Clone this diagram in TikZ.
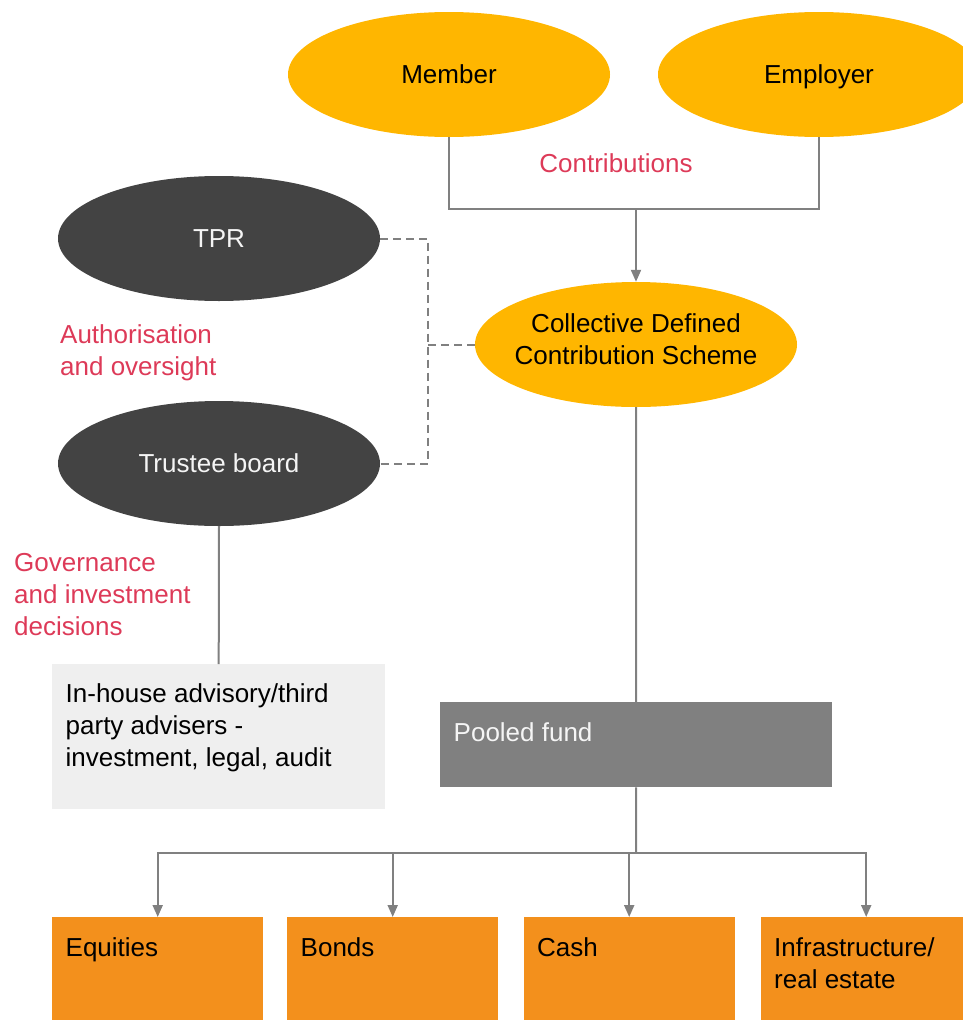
\documentclass[tikz,border=0pt]{standalone}
\usepackage{fontspec}
\setmainfont{Liberation Sans}
\usetikzlibrary{shapes.geometric,arrows.meta}

\definecolor{schemegold}{RGB}{255,182,0}
\definecolor{bodydark}{RGB}{67,67,67}
\definecolor{assetorange}{RGB}{243,144,28}
\definecolor{fundgray}{RGB}{128,128,128}
\definecolor{advisorgray}{RGB}{239,239,239}
\definecolor{linkgray}{RGB}{128,128,128}
\definecolor{notered}{RGB}{221,58,88}
\definecolor{softwhite}{RGB}{245,245,245}

% zero-width strut that fixes the height of a first text line
\newcommand\ascstrut{\rule{0pt}{19pt}}

\begin{document}
\begin{tikzpicture}[
  x=1pt, y=-1pt,
  font=\fontsize{26}{32}\selectfont,
  oval/.style={ellipse, minimum width=322pt, minimum height=125pt, inner sep=0pt},
  oneline/.style={text height=17pt, text depth=0pt},
  goldoval/.style={oval, fill=schemegold, text=black},
  darkoval/.style={oval, oneline, fill=bodydark, text=softwhite},
  block/.style={rectangle, anchor=north west, inner sep=0pt, minimum height=#1},
  block/.default=110pt,
  blocktext/.style={anchor=north west, inner sep=0pt, align=left, xshift=13.5pt, yshift=-20.7pt},
  note/.style={text=notered, inner sep=0pt},
  link/.style={draw=linkgray, line width=2pt},
  dashlink/.style={link, dash pattern=on 8pt off 5pt},
  arrowlink/.style={link, -{Triangle[length=12pt,width=10pt]}}
]
\clip (0,0) rectangle (963,1020);

% parties paying in
\node[goldoval, oneline] (member) at (449,74.5) {Member};
\node[goldoval, oneline] (employer) at (819,74.5) {Employer};
\node[note, anchor=base] (contrib) at (616,172.7) {Contributions};

% the scheme (negative x padding keeps the oval at its set width)
\node[goldoval, align=center, inner xsep=-12pt] (cdc) at (636,344.5)
  {Collective Defined\\Contribution Scheme\rule[-10pt]{0pt}{10pt}};

% oversight bodies
\node[darkoval] (tpr) at (219,238.5) {TPR};
\node[darkoval] (trustee) at (219,463.5) {Trustee board};
\node[note, anchor=north west, align=left] (auth) at (60,324)
  {\ascstrut Authorisation\\and oversight};
\node[note, anchor=north west, align=left] (gov) at (14,552.7)
  {\ascstrut Governance\\and investment\\decisions};

% advisers
\node[block=145pt, minimum width=333pt, fill=advisorgray,
  label={[blocktext, yshift=1pt]north west:{\ascstrut In-house advisory/third\\party advisers -\\investment, legal, audit}}]
  (advisers) at (52,664) {};

% pooled fund
\node[block=85pt, minimum width=392pt, fill=fundgray,
  label={[blocktext, text=softwhite]north west:{\ascstrut Pooled fund}}]
  (pool) at (440,702) {};

% asset classes
\node[block, minimum width=211pt, fill=assetorange,
  label={[blocktext]north west:{\ascstrut Equities}}] (equities) at (52,917) {};
\node[block, minimum width=211pt, fill=assetorange,
  label={[blocktext]north west:{\ascstrut Bonds}}] (bonds) at (287,917) {};
\node[block, minimum width=211pt, fill=assetorange,
  label={[blocktext]north west:{\ascstrut Cash}}] (cash) at (523.5,917) {};
\node[block, minimum width=211pt, fill=assetorange,
  label={[blocktext]north west:{\ascstrut Infrastructure/\\real estate}}] (infra) at (760.5,917) {};

% junction points
\coordinate (cj) at (636,209);
\coordinate (dj) at (428,344.5);
\coordinate (pj) at (636,852.5);

% contributions into the scheme
\draw[link] (member.south) |- (cj) -| (employer.south);
\draw[arrowlink] (cj) -- (cdc.north);

% oversight links
\draw[dashlink] (tpr.east) -| (dj) |- (trustee.east);
\draw[dashlink] (dj) -- (cdc.west);

% governance
\draw[link] (trustee.south) -- (advisers.north);

% scheme to fund to assets
\draw[link] (cdc.south) -- (pool.north);
\draw[link] (pool.south) -- (pj);
\draw[arrowlink] (pj) -| (equities.north);
\draw[arrowlink] (pj) -| (bonds.north);
\draw[arrowlink] (pj) -| (cash.north);
\draw[arrowlink] (pj) -| (infra.north);
\end{tikzpicture}
\end{document}
